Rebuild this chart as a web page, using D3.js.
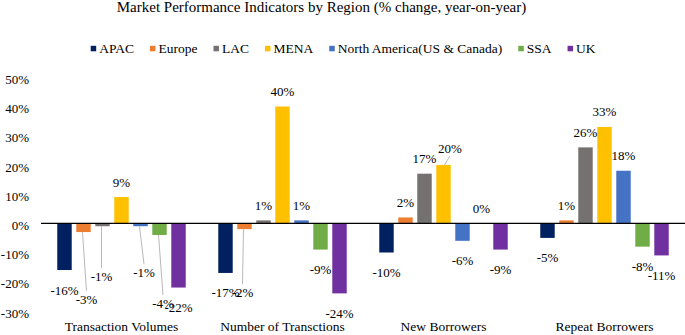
<!DOCTYPE html>
<html><head><meta charset="utf-8">
<script src="https://cdn.jsdelivr.net/npm/d3@7"></script>
<style>body{margin:0;background:#fff}svg{display:block}</style>
</head><body><svg id="c" width="685" height="335" font-family="Liberation Serif, serif"></svg>
<script>
const categories = ["Transaction Volumes","Number of Transctions","New Borrowers","Repeat Borrowers"];
const regions = ["APAC","Europe","LAC","MENA","North America(US & Canada)","SSA","UK"];
const apac   = [-16,-17,-10,-5];
const europe = [-3,-2,2,1];
const lac    = [-1,1,17,26];
const mena   = [9,40,20,33];
const northAmerica = [-1,1,-6,18];
const ssa    = [-4,-9,0,-8];
const uk     = [-22,-24,-9,-11];
const yTicks = [-30,-20,-10,0,10,20,30,40,50];
const colors = ["#002060","#ED7D31","#767171","#FFC000","#4472C4","#70AD47","#7030A0"];

const seriesValues = [apac,europe,lac,mena,northAmerica,ssa,uk];
// label nudges (layout only): [categoryIndex, regionIndex, dx, dy]
const labelNudges = [[0,1,3,47],[0,2,-1,30],[0,4,3.5,26],[0,5,3.5,48],[1,1,-2,43],[2,3,6.5,-1]];
const FONT = "Liberation Serif, serif";

const svg = d3.select("#c");
const x0 = d3.scaleBand().domain(categories).range([41,685]);
const x1 = d3.scaleBand().domain(regions).range([0,x0.bandwidth()]).paddingInner(0.24).paddingOuter(0.856);
const y = d3.scaleLinear().domain([-30,50]).range([310.9,77.3]);

function txt(sel,size){ return sel.attr("font-family",FONT).attr("font-size",size).attr("fill","#000"); }

txt(svg.append("text").attr("x",321.5).attr("y",12).attr("text-anchor","middle"),15)
  .text("Market Performance Indicators by Region (% change, year-on-year)");

// legend
const lg = svg.append("g");
let lx = 90.7;
regions.forEach((r,i)=>{
  lg.append("rect").attr("x",lx).attr("y",45.8).attr("width",5.5).attr("height",5.5).attr("fill",colors[i]);
  const t = txt(lg.append("text").attr("x",lx+8.5).attr("y",52.5),13.5).text(r);
  lx += 8.5 + t.node().getComputedTextLength() + 16;
});

// y axis tick labels
const yAxis = d3.axisLeft(y).tickValues(yTicks).tickFormat(d=>d+"%").tickSize(0).tickPadding(0);
const ya = svg.append("g").attr("transform","translate(29,2)").call(yAxis);
ya.attr("font-family",FONT).attr("font-size",13);
ya.select(".domain").remove();
txt(ya.selectAll("text"),13);

// bars
const data = [];
categories.forEach((c,ci)=>regions.forEach((r,ri)=>data.push({c,ci,r,ri,v:seriesValues[ri][ci]})));
svg.append("g").selectAll("rect").data(data).join("rect")
  .attr("x",d=>x0(d.c)+x1(d.r)).attr("width",x1.bandwidth())
  .attr("y",d=>y(Math.max(0,d.v))).attr("height",d=>Math.abs(y(d.v)-y(0)))
  .attr("fill",d=>colors[d.ri]);

// zero line
svg.append("line").attr("x1",41).attr("x2",685).attr("y1",y(0)).attr("y2",y(0)).attr("stroke","#000").attr("stroke-width",1.2);

// labels
const lab = svg.append("g");
data.forEach(d=>{
  const cx = x0(d.c)+x1(d.r)+x1.bandwidth()/2;
  const ey = y(d.v);
  let lxp = cx, lyp = d.v>=0 ? ey-15 : ey+20;
  const n = labelNudges.find(n=>n[0]===d.ci&&n[1]===d.ri);
  if(n){
    lxp += n[2]; lyp += n[3];
    const ty = d.v>=0 ? lyp+7 : lyp-8;
    lab.append("line").attr("x1",cx+(d.v>=0?1:-1)).attr("y1",ey).attr("x2",lxp).attr("y2",ty)
      .attr("stroke","#a6a6a6").attr("stroke-width",0.8);
  }
  txt(lab.append("text").attr("x",lxp).attr("y",lyp).attr("dy","0.35em").attr("text-anchor","middle"),13).text(d.v+"%");
});

// category labels
txt(svg.append("g").selectAll("text").data(categories).join("text")
  .attr("x",d=>x0(d)+x0.bandwidth()/2).attr("y",331).attr("text-anchor","middle"),13.5).text(d=>d);
</script></body></html>
